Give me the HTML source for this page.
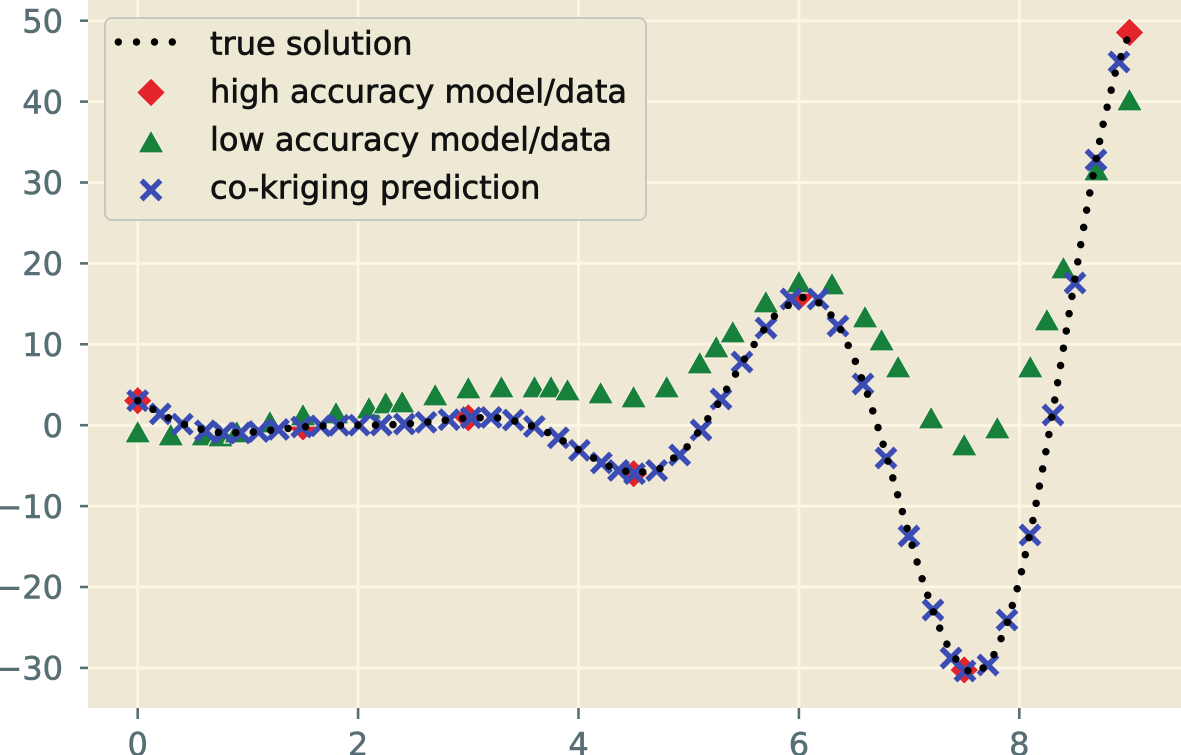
<!DOCTYPE html>
<html>
<head>
<meta charset="utf-8">
<style>
html,body{margin:0;padding:0;background:#fff;width:1181px;height:755px;overflow:hidden}
svg{display:block}
</style>
</head>
<body>
<svg width="1181" height="755" viewBox="0 0 1181 755" xmlns="http://www.w3.org/2000/svg" font-family="'DejaVu Sans', 'Liberation Sans', sans-serif">
<defs>
  <path id="dm" d="M0,-14.5L14.5,0L0,14.5L-14.5,0Z" fill="#e3242b" stroke="#f6efe0" stroke-width="1.2"/>
  <path id="tm" d="M0,-12L13,11L-13,11Z" fill="#17803a" stroke="#f6efe0" stroke-width="1.2" stroke-linejoin="round"/>
  <path id="xm" d="M-9.5,-9.5L9.5,9.5M-9.5,9.5L9.5,-9.5" stroke="#3b4cb4" stroke-width="5.5" fill="none"/>
</defs>
<rect x="0" y="0" width="1181" height="755" fill="#ffffff"/>
<rect x="88" y="0" width="1093" height="708" fill="#eee8d5"/>

<g stroke="#fdf6e3" stroke-width="3">
  <line x1="137.7" y1="0" x2="137.7" y2="708"/>
  <line x1="358.1" y1="0" x2="358.1" y2="708"/>
  <line x1="578.5" y1="0" x2="578.5" y2="708"/>
  <line x1="798.9" y1="0" x2="798.9" y2="708"/>
  <line x1="1019.3" y1="0" x2="1019.3" y2="708"/>
  <line x1="88" y1="20.7" x2="1181" y2="20.7"/>
  <line x1="88" y1="101.6" x2="1181" y2="101.6"/>
  <line x1="88" y1="182.5" x2="1181" y2="182.5"/>
  <line x1="88" y1="263.4" x2="1181" y2="263.4"/>
  <line x1="88" y1="344.3" x2="1181" y2="344.3"/>
  <line x1="88" y1="425.2" x2="1181" y2="425.2"/>
  <line x1="88" y1="506.1" x2="1181" y2="506.1"/>
  <line x1="88" y1="587.0" x2="1181" y2="587.0"/>
  <line x1="88" y1="667.9" x2="1181" y2="667.9"/>
</g>

<g stroke="#586e75" stroke-width="2.6">
  <line x1="80" y1="20.7" x2="88" y2="20.7"/>
  <line x1="80" y1="101.6" x2="88" y2="101.6"/>
  <line x1="80" y1="182.5" x2="88" y2="182.5"/>
  <line x1="80" y1="263.4" x2="88" y2="263.4"/>
  <line x1="80" y1="344.3" x2="88" y2="344.3"/>
  <line x1="80" y1="425.2" x2="88" y2="425.2"/>
  <line x1="80" y1="506.1" x2="88" y2="506.1"/>
  <line x1="80" y1="587.0" x2="88" y2="587.0"/>
  <line x1="80" y1="667.9" x2="88" y2="667.9"/>
  <line x1="137.7" y1="708" x2="137.7" y2="719"/>
  <line x1="358.1" y1="708" x2="358.1" y2="719"/>
  <line x1="578.5" y1="708" x2="578.5" y2="719"/>
  <line x1="798.9" y1="708" x2="798.9" y2="719"/>
  <line x1="1019.3" y1="708" x2="1019.3" y2="719"/>
</g>

<g fill="#586e75" stroke="#586e75" stroke-width="0.6" font-size="32" text-anchor="end">
  <text x="63" y="32.4">50</text>
  <text x="63" y="113.3">40</text>
  <text x="63" y="194.2">30</text>
  <text x="63" y="275.1">20</text>
  <text x="63" y="356.0">10</text>
  <text x="63" y="436.9">0</text>
  <text x="63" y="517.8">−10</text>
  <text x="63" y="598.7">−20</text>
  <text x="63" y="679.6">−30</text>
</g>
<g fill="#586e75" stroke="#586e75" stroke-width="0.6" font-size="32" text-anchor="middle">
  <text x="137.7" y="755.5">0</text>
  <text x="358.1" y="755.5">2</text>
  <text x="578.5" y="755.5">4</text>
  <text x="798.9" y="755.5">6</text>
  <text x="1019.3" y="755.5">8</text>
</g>

<g>
  <use href="#dm" x="137.7" y="400.7"/>
  <use href="#dm" x="303.0" y="426.9"/>
  <use href="#dm" x="468.3" y="417.8"/>
  <use href="#dm" x="633.6" y="473.7"/>
  <use href="#dm" x="798.9" y="297.1"/>
  <use href="#dm" x="964.2" y="669.9"/>
  <use href="#dm" x="1129.5" y="32.5"/>
</g>

<g>
  <use href="#tm" x="137.7" y="432"/>
  <use href="#tm" x="170.8" y="435"/>
  <use href="#tm" x="203.8" y="435"/>
  <use href="#tm" x="220.4" y="436"/>
  <use href="#tm" x="236.8" y="432"/>
  <use href="#tm" x="269.9" y="422"/>
  <use href="#tm" x="303.0" y="415"/>
  <use href="#tm" x="336.0" y="413"/>
  <use href="#tm" x="369.0" y="408"/>
  <use href="#tm" x="385.7" y="403"/>
  <use href="#tm" x="402.2" y="402"/>
  <use href="#tm" x="435.2" y="395"/>
  <use href="#tm" x="468.3" y="388"/>
  <use href="#tm" x="501.4" y="387"/>
  <use href="#tm" x="534.5" y="387"/>
  <use href="#tm" x="551.0" y="387"/>
  <use href="#tm" x="567.5" y="390"/>
  <use href="#tm" x="600.6" y="393"/>
  <use href="#tm" x="633.6" y="397"/>
  <use href="#tm" x="666.7" y="387"/>
  <use href="#tm" x="699.8" y="363"/>
  <use href="#tm" x="716.3" y="347"/>
  <use href="#tm" x="732.8" y="332"/>
  <use href="#tm" x="765.8" y="302"/>
  <use href="#tm" x="798.9" y="282"/>
  <use href="#tm" x="832.0" y="284"/>
  <use href="#tm" x="865.0" y="317"/>
  <use href="#tm" x="881.6" y="340"/>
  <use href="#tm" x="898.1" y="367"/>
  <use href="#tm" x="931.1" y="418"/>
  <use href="#tm" x="964.2" y="445"/>
  <use href="#tm" x="997.3" y="428"/>
  <use href="#tm" x="1030.3" y="367"/>
  <use href="#tm" x="1046.9" y="320"/>
  <use href="#tm" x="1063.4" y="268"/>
  <use href="#tm" x="1096.4" y="170"/>
  <use href="#tm" x="1129.5" y="100"/>
</g>

<g>
  <use href="#xm" x="137.7" y="400.7"/>
  <use href="#xm" x="160.3" y="413.9"/>
  <use href="#xm" x="182.3" y="424.2"/>
  <use href="#xm" x="205.4" y="430.8"/>
  <use href="#xm" x="223.4" y="433.0"/>
  <use href="#xm" x="240.5" y="433.0"/>
  <use href="#xm" x="258.5" y="431.6"/>
  <use href="#xm" x="278.5" y="429.4"/>
  <use href="#xm" x="301.7" y="427.0"/>
  <use href="#xm" x="320.7" y="425.8"/>
  <use href="#xm" x="338.8" y="425.3"/>
  <use href="#xm" x="359.2" y="425.2"/>
  <use href="#xm" x="381.2" y="425.1"/>
  <use href="#xm" x="404.4" y="424.1"/>
  <use href="#xm" x="426.0" y="422.3"/>
  <use href="#xm" x="449.0" y="419.7"/>
  <use href="#xm" x="471.1" y="417.7"/>
  <use href="#xm" x="491.1" y="417.4"/>
  <use href="#xm" x="513.3" y="420.1"/>
  <use href="#xm" x="534.3" y="426.4"/>
  <use href="#xm" x="558.3" y="437.8"/>
  <use href="#xm" x="579.4" y="450.3"/>
  <use href="#xm" x="601.4" y="462.9"/>
  <use href="#xm" x="618.5" y="470.4"/>
  <use href="#xm" x="634.5" y="473.7"/>
  <use href="#xm" x="656.6" y="470.4"/>
  <use href="#xm" x="679.7" y="455.0"/>
  <use href="#xm" x="701" y="430"/>
  <use href="#xm" x="721" y="399"/>
  <use href="#xm" x="742" y="362"/>
  <use href="#xm" x="766" y="328"/>
  <use href="#xm" x="791" y="299"/>
  <use href="#xm" x="818" y="299"/>
  <use href="#xm" x="838" y="326"/>
  <use href="#xm" x="863" y="384"/>
  <use href="#xm" x="886" y="458"/>
  <use href="#xm" x="909" y="536"/>
  <use href="#xm" x="933" y="610"/>
  <use href="#xm" x="951" y="658"/>
  <use href="#xm" x="965" y="671"/>
  <use href="#xm" x="988" y="665"/>
  <use href="#xm" x="1007" y="620"/>
  <use href="#xm" x="1030" y="535"/>
  <use href="#xm" x="1053" y="415"/>
  <use href="#xm" x="1075" y="283"/>
  <use href="#xm" x="1096" y="160"/>
  <use href="#xm" x="1119" y="62"/>
</g>

<polyline fill="none" stroke="#000" stroke-width="7.5" stroke-linecap="round" stroke-dasharray="0 17.5"
 points="137.7,400.7 165.3,416.5 192.8,427.8 220.4,432.8 247.9,432.6 275.5,429.7 303.0,426.9 330.6,425.4 358.1,425.2 385.7,425.0 413.2,423.5 440.8,420.7 468.3,417.8 495.9,417.6 523.4,422.6 551.0,433.9 578.5,449.7 606.1,465.2 633.6,473.7 661.2,468.4 688.7,445.5 716.3,406.8 743.8,360.1 771.4,318.5 798.9,297.1 812.7,298.3 826.5,308.5 840.2,328.5 854.0,357.7 867.8,395.1 881.6,438.9 895.3,486.6 909.1,535.2 922.9,581.3 936.7,621.4 950.4,651.9 964.2,669.9 978.0,673.0 991.8,659.4 1005.5,628.7 1019.3,581.5 1033.1,519.6 1046.9,446.2 1060.6,365.2 1074.4,281.6 1088.2,200.9 1102.0,128.9 1115.7,71.1 1129.5,32.5"/>

<rect x="105" y="18" width="541" height="202" rx="7" ry="7" fill="#eee8d5" fill-opacity="0.93" stroke="#c6c8c2" stroke-width="2"/>
<g fill="#000">
  <circle cx="118.3" cy="42" r="3.7"/>
  <circle cx="136.5" cy="42" r="3.7"/>
  <circle cx="154.5" cy="42" r="3.7"/>
  <circle cx="172.3" cy="42" r="3.7"/>
</g>
<use href="#dm" x="151" y="92.5"/>
<use href="#tm" x="151" y="142"/>
<use href="#xm" x="151" y="190"/>
<g fill="#111" stroke="#111" stroke-width="0.7" font-size="32">
  <text x="210" y="54.5">true solution</text>
  <text x="210" y="102.5">high accuracy model/data</text>
  <text x="210" y="150.5">low accuracy model/data</text>
  <text x="210" y="198.5">co-kriging prediction</text>
</g>
</svg>
</body>
</html>
